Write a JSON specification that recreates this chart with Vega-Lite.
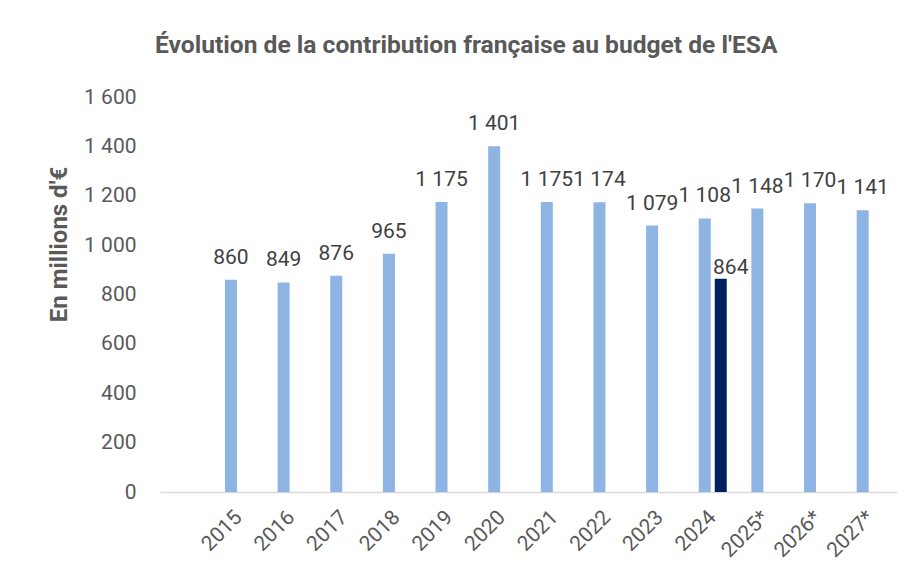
{
  "$schema": "https://vega.github.io/schema/vega-lite/v6.json",
  "width": 737,
  "height": 395,
  "autosize": {"type": "none"},
  "padding": {"left": 160, "top": 97, "right": 15, "bottom": 88},
  "background": "white",
  "config": {
    "view": {"stroke": null},
    "font": "Roboto",
    "locale": {"number": {"decimal": ",", "thousands": " ", "grouping": [3], "currency": ["", " €"]}}
  },
  "title": {
    "text": "Évolution de la contribution française au budget de l'ESA",
    "anchor": "start",
    "frame": "group",
    "dx": -5,
    "offset": 27,
    "fontSize": 24.6,
    "fontWeight": "bold",
    "color": "#595959",
    "font": "Roboto"
  },
  "data": {
    "values": [
      {"year": "2015", "series": "a", "value": 860},
      {"year": "2016", "series": "a", "value": 849},
      {"year": "2017", "series": "a", "value": 876},
      {"year": "2018", "series": "a", "value": 965},
      {"year": "2019", "series": "a", "value": 1175},
      {"year": "2020", "series": "a", "value": 1401},
      {"year": "2021", "series": "a", "value": 1175},
      {"year": "2022", "series": "a", "value": 1174},
      {"year": "2023", "series": "a", "value": 1079},
      {"year": "2024", "series": "a", "value": 1108},
      {"year": "2024", "series": "b", "value": 864},
      {"year": "2025*", "series": "a", "value": 1148},
      {"year": "2026*", "series": "a", "value": 1170},
      {"year": "2027*", "series": "a", "value": 1141}
    ]
  },
  "encoding": {
    "x": {
      "field": "year",
      "type": "nominal",
      "scale": {
        "domain": [" ", "2015", "2016", "2017", "2018", "2019", "2020", "2021", "2022", "2023", "2024", "2025*", "2026*", "2027*"],
        "paddingInner": 0,
        "paddingOuter": 0
      },
      "axis": {
        "title": null,
        "labelAngle": -45,
        "labelAlign": "right",
        "labelBaseline": "middle",
        "labelPadding": 22,
        "labelFontSize": 21,
        "labelColor": "#595959",
        "ticks": false,
        "domainColor": "#d9d9d9",
        "domainWidth": 1.5,
        "grid": false
      }
    },
    "xOffset": {
      "field": "series",
      "type": "nominal",
      "scale": {"domain": ["a", "b"], "paddingInner": 0.25, "paddingOuter": 0.77}
    },
    "y": {
      "field": "value",
      "type": "quantitative",
      "scale": {"domain": [0, 1600], "nice": false},
      "axis": {
        "title": "En millions d'€",
        "titleFontSize": 24,
        "titleFontWeight": "bold",
        "titleColor": "#595959",
        "titleX": -101,
        "titleY": 147,
        "titleAngle": 270,
        "titleBaseline": "middle",
        "titleAlign": "center",
        "values": [0, 200, 400, 600, 800, 1000, 1200, 1400, 1600],
        "format": ",d",
        "labelFontSize": 21,
        "labelColor": "#595959",
        "labelPadding": 24,
        "ticks": false,
        "domain": false,
        "grid": false
      }
    }
  },
  "layer": [
    {
      "mark": {"type": "bar"},
      "encoding": {
        "color": {
          "field": "series",
          "type": "nominal",
          "scale": {"domain": ["a", "b"], "range": ["#8EB4E3", "#002060"]},
          "legend": null
        }
      }
    },
    {
      "transform": [{"filter": "datum.series == 'a'"}],
      "mark": {"type": "text", "baseline": "alphabetic", "dy": -16, "fontSize": 21, "color": "#404040"},
      "encoding": {"text": {"field": "value", "type": "quantitative", "format": ",d"}}
    },
    {
      "transform": [{"filter": "datum.series == 'b'"}],
      "mark": {"type": "text", "baseline": "alphabetic", "dy": -5, "dx": 10, "fontSize": 21, "color": "#404040"},
      "encoding": {"text": {"field": "value", "type": "quantitative", "format": ",d"}}
    }
  ]
}
